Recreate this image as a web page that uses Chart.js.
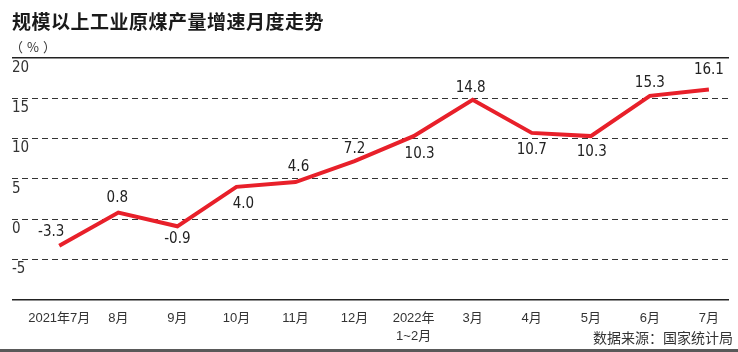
<!DOCTYPE html>
<html>
<head>
<meta charset="utf-8">
<script src="https://cdn.jsdelivr.net/npm/chart.js@4"></script>
<style>
  body { margin: 0; background: #fff; }
  #wrap { position: relative; width: 738px; height: 352px; overflow: hidden; }
  #coalChart { position: absolute; left: 0; top: 0; }
  #title { position: absolute; left: 12px; top: 7px; font: bold 19px "Noto Sans CJK SC", sans-serif; color: #1a1a1a; letter-spacing: 0.5px; }
  #unit { position: absolute; left: 10px; top: 37px; font: 13px "Noto Sans CJK SC", sans-serif; color: #333; letter-spacing: 4px; }
  #source { position: absolute; right: 5px; top: 327px; font: 14px "Noto Sans CJK SC", sans-serif; color: #333; }
  #bar { position: absolute; left: 0; top: 349px; width: 738px; height: 3px; background: #595959; }
</style>
</head>
<body>
<div id="wrap">
  <canvas id="coalChart" width="738" height="358"></canvas>
  <div id="title">规模以上工业原煤产量增速月度走势</div>
  <div id="unit">（%）</div>
  <div id="source">数据来源：国家统计局</div>
  <div id="bar"></div>
</div>
<script>
// ===== data =====
const months = ["2021年7月", "8月", "9月", "10月", "11月", "12月", ["2022年", "1~2月"], "3月", "4月", "5月", "6月", "7月"];
const growth = [-3.3, 0.8, -0.9, 4.0, 4.6, 7.2, 10.3, 14.8, 10.7, 10.3, 15.3, 16.1];
const yTicks = [-10, -5, 0, 5, 10, 15, 20];

// label offsets relative to each point (dx, dy)
const labelOffsets = [[-8, -14], [-1, -15], [0, 13], [7, 17], [3, -15], [0, -12], [6, 18], [-2, -12], [0, 17], [1, 16], [0, -13], [0, -19]];

const numFont = '"DejaVu Sans Condensed", "Liberation Sans Narrow", sans-serif';

const valueLabels = {
  id: "valueLabels",
  afterDatasetsDraw(chart) {
    const ctx = chart.ctx;
    const meta = chart.getDatasetMeta(0);
    ctx.save();
    ctx.font = "15px " + numFont;
    ctx.fillStyle = "#222";
    ctx.textAlign = "center";
    ctx.textBaseline = "middle";
    meta.data.forEach((pt, i) => {
      const off = labelOffsets[i];
      ctx.fillText(growth[i].toFixed(1), pt.x + off[0], pt.y + off[1]);
    });
    ctx.restore();
  }
};

const isEdge = c => c.tick && (c.tick.value === 20 || c.tick.value === -10);

new Chart(document.getElementById("coalChart"), {
  type: "line",
  data: {
    datasets: [{
      data: growth.map((v, i) => ({ x: i, y: v })),
      borderColor: "#e8202a",
      borderWidth: 4,
      pointRadius: 0,
      tension: 0,
      fill: false
    }]
  },
  options: {
    responsive: false,
    animation: false,
    layout: { padding: { top: 58, left: 12, right: 9, bottom: 2 } },
    plugins: { legend: { display: false }, tooltip: { enabled: false } },
    scales: {
      x: {
        type: "linear",
        min: -0.8,
        max: 11.34,
        afterBuildTicks: s => { s.ticks = months.map((_, i) => ({ value: i })); },
        grid: { display: false, drawTicks: false },
        border: { display: false },
        ticks: {
          autoSkip: false,
          maxRotation: 0,
          padding: 10,
          color: "#333",
          font: { size: 13, family: '"Liberation Sans", "Noto Sans CJK SC", sans-serif', lineHeight: 1.4 },
          callback: v => months[v]
        }
      },
      y: {
        min: -10,
        max: 20,
        afterBuildTicks: s => { s.ticks = yTicks.map(v => ({ value: v })); },
        grid: {
          drawTicks: false,
          color: c => isEdge(c) ? "#222" : "#333",
          lineWidth: c => isEdge(c) ? 1.5 : 1
        },
        border: {
          display: false,
          dash: c => isEdge(c) ? [] : [6, 4]
        },
        ticks: {
          mirror: true,
          padding: 0,
          labelOffset: 10,
          color: "#333",
          font: { size: 15, family: numFont },
          callback: v => v === -10 ? "" : v
        }
      }
    }
  },
  plugins: [valueLabels]
});
</script>
</body>
</html>
